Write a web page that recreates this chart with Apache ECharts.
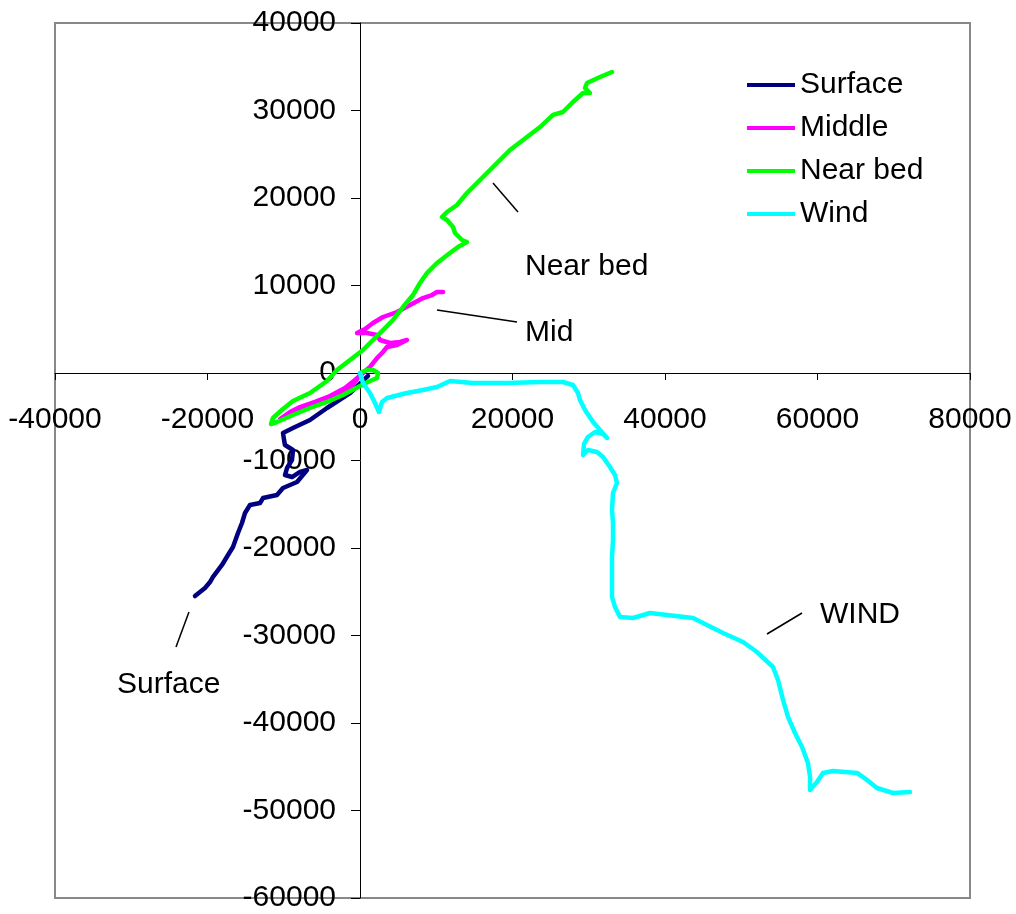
<!DOCTYPE html>
<html>
<head>
<meta charset="utf-8">
<script src="https://cdn.jsdelivr.net/npm/echarts@6/dist/echarts.min.js"></script>
<style>
html,body{margin:0;padding:0;background:#fff;}
#chart{width:1016px;height:914px;}
</style>
</head>
<body>
<div id="chart"></div>
<script>
// Values in thousands, scaled to units below
var surface = [[1.05,-0.34],[-1.31,-2.29],[-4.33,-4.0],[-6.56,-5.37],[-8.79,-6.29],[-10.1,-6.86],[-9.97,-7.6],[-9.84,-8.23],[-8.79,-8.8],[-8.92,-9.94],[-9.57,-10.86],[-9.84,-11.66],[-8.92,-11.89],[-7.87,-11.31],[-6.95,-11.09],[-8.26,-12.46],[-10.1,-13.14],[-10.89,-13.94],[-12.72,-14.29],[-13.11,-14.86],[-14.43,-15.09],[-15.08,-16.0],[-15.48,-17.14],[-16.0,-18.29],[-16.66,-19.89],[-17.31,-20.8],[-18.1,-21.94],[-19.28,-23.31],[-19.67,-23.89],[-20.33,-24.57],[-21.64,-25.49]];
var middle = [[0.26,0.11],[-0.92,-1.37],[-2.62,-2.51],[-4.33,-3.09],[-6.16,-3.77],[-7.87,-4.23],[-9.18,-4.69],[-10.49,-5.26],[-9.18,-4.46],[-7.87,-3.89],[-5.9,-3.31],[-3.93,-2.63],[-1.97,-1.71],[-0.66,-0.8],[0.39,0],[1.31,0.69],[2.23,1.71],[3.02,2.4],[3.54,2.97],[4.85,3.2],[6.16,3.77],[5.25,3.54],[3.93,3.43],[2.62,3.77],[2.23,4.34],[0.92,4.57],[-0.39,4.57],[0.66,5.03],[1.7,5.71],[3.02,6.4],[4.85,6.97],[6.56,7.77],[8.26,8.57],[9.44,8.91],[10.1,9.26],[10.89,9.26]];
var nearBed = [[0,0],[0.92,0.34],[1.7,0.34],[2.36,0],[2.23,-0.57],[1.31,-0.91],[0,-1.49],[-2.23,-2.51],[-4.33,-3.31],[-6.56,-4.0],[-8.79,-4.8],[-10.89,-5.6],[-11.67,-5.83],[-11.41,-5.14],[-10.1,-4.11],[-8.79,-3.2],[-6.56,-2.29],[-4.33,-0.91],[-3.02,0.34],[-1.31,1.49],[0.39,2.63],[1.7,3.77],[3.02,4.91],[4.33,6.06],[5.64,7.54],[6.95,8.91],[7.87,10.29],[8.79,11.43],[10.1,12.57],[11.8,13.71],[12.85,14.4],[14.03,14.97],[13.38,15.2],[12.46,16.0],[12.2,16.69],[11.41,17.49],[10.75,17.83],[11.41,18.4],[12.72,19.2],[14.03,20.57],[15.74,22.06],[17.44,23.54],[18.36,24.34],[19.67,25.49],[21.9,26.97],[23.61,28.11],[25.31,29.49],[26.62,29.83],[27.93,30.97],[29.25,32.0],[30.16,32.0],[29.51,32.57],[29.77,33.14],[31.48,33.83],[33.05,34.4]];
var wind = [[0,0],[0.39,-1.14],[1.31,-2.29],[1.97,-3.43],[2.49,-4.46],[2.89,-3.31],[3.54,-2.86],[6.16,-2.29],[8.26,-1.94],[10.1,-1.6],[11.8,-0.91],[14.82,-1.14],[19.28,-1.14],[23.61,-1.03],[26.62,-1.03],[27.93,-1.37],[28.59,-2.29],[28.85,-3.09],[29.51,-4.23],[30.56,-5.6],[31.48,-6.51],[32.39,-7.43],[31.87,-6.97],[30.82,-6.74],[29.9,-7.31],[29.38,-8.11],[29.25,-9.37],[29.9,-8.8],[31.08,-9.03],[31.87,-9.6],[32.79,-10.74],[33.44,-11.66],[33.7,-12.57],[33.18,-13.71],[33.05,-15.66],[33.18,-17.14],[33.18,-19.09],[33.05,-21.03],[33.05,-22.86],[33.05,-25.6],[33.44,-26.74],[34.1,-27.89],[35.8,-28.0],[38.03,-27.43],[40.26,-27.66],[43.67,-28.0],[45.51,-28.8],[47.61,-29.71],[50.23,-30.74],[52.07,-31.89],[54.16,-33.6],[54.82,-35.09],[55.48,-37.37],[56.13,-39.31],[57.05,-41.14],[57.97,-42.74],[58.75,-44.57],[59.02,-46.17],[59.02,-47.66],[59.93,-46.74],[60.72,-45.71],[62.03,-45.49],[65.18,-45.71],[66.49,-46.51],[67.8,-47.43],[69.9,-48.0],[72.13,-47.89]];

var seriesNames = ['Surface','Middle','Near bed','Wind'];
var seriesColors = ['#000080','#FF00FF','#00FF00','#00FFFF'];

// Annotation labels (data coords, thousands) and leader lines
var annoLabels = ['Near bed','Mid','Surface','WIND'];
var annoPos = [[21.64,12.2],[21.64,4.6],[-31.87,-35.6],[60.33,-27.6]];
var annoLeaders = [
  [[17.44,21.71],[20.72,18.4]],
  [[10.1,7.2],[20.59,5.83]],
  [[-22.43,-27.31],[-24.13,-31.31]],
  [[53.38,-29.83],[57.97,-27.43]]
];

var xTicks = {min:-40000, max:80000, interval:20000};
var yTicks = {min:-60000, max:40000, interval:10000};

function scale(arr){ return arr.map(function(p){ return [p[0]*1000, p[1]*1000]; }); }

var FONT = 'Arial, "Liberation Sans", sans-serif';
var FS = 30;
var W = 1016, H = 914;
var G = {left:55, top:23, right:46, bottom:16};
var gw = W - G.left - G.right, gh = H - G.top - G.bottom;
// move axes to cross at zero (line, ticks and labels together)
var yAxisOffset = -gw * (0 - xTicks.min) / (xTicks.max - xTicks.min);
var xAxisOffset = -gh * (0 - yTicks.min) / (yTicks.max - yTicks.min);

var chart = echarts.init(document.getElementById('chart'), null, {renderer:'canvas'});

var dataSets = [surface, middle, nearBed, wind];
var series = dataSets.map(function(d, i){
  return {
    name: seriesNames[i], type:'line', data: scale(d),
    showSymbol:false, symbol:'none', smooth:false, animation:false,
    lineStyle:{color:seriesColors[i], width:4.5, cap:'round', join:'round'},
    itemStyle:{color:seriesColors[i]}, z: 2+i
  };
});
annoLeaders.forEach(function(l){
  series.push({type:'line', data: scale(l), showSymbol:false, symbol:'none', silent:true, animation:false,
    lineStyle:{color:'#000', width:1.5}, z:10});
});
series.push({
  type:'scatter', symbolSize:0, silent:true, animation:false, z:11,
  itemStyle:{opacity:1},
  data: annoPos.map(function(p, i){ return {value:[p[0]*1000, p[1]*1000], name: annoLabels[i]}; }),
  label:{show:true, position:'right', distance:0, formatter:'{b}', color:'#000', opacity:1, fontSize:FS, fontFamily:FONT}
});

function fmt(v){ return String(v); }

chart.setOption({
  backgroundColor:'#fff',
  animation:false,
  grid:{left:G.left, top:G.top, right:G.right, bottom:G.bottom, containLabel:false, outerBoundsMode:'none',
        show:true, borderColor:'#888', borderWidth:2, backgroundColor:'transparent'},
  legend:{
    data: seriesNames, orient:'vertical', left:747, top:70, padding:0, icon:'rect', itemWidth:48, itemHeight:4, itemGap:13,
    textStyle:{fontSize:FS, fontFamily:FONT, color:'#000', lineHeight:30}
  },
  xAxis:{
    type:'value', position:'bottom', offset:xAxisOffset, min:xTicks.min, max:xTicks.max, interval:xTicks.interval,
    axisLine:{show:true, onZero:false, lineStyle:{color:'#000', width:1}},
    axisTick:{show:true, inside:false, length:7, lineStyle:{color:'#000'}},
    axisLabel:{color:'#000', fontSize:FS, fontFamily:FONT, margin:32, formatter:fmt, hideOverlap:false},
    splitLine:{show:false}
  },
  yAxis:{
    type:'value', position:'left', offset:yAxisOffset, min:yTicks.min, max:yTicks.max, interval:yTicks.interval,
    axisLine:{show:true, onZero:false, lineStyle:{color:'#000', width:1}},
    axisTick:{show:true, inside:false, length:9, lineStyle:{color:'#000'}},
    axisLabel:{color:'#000', fontSize:FS, fontFamily:FONT, margin:24, formatter:fmt, hideOverlap:false, padding:[5,0,0,0]},
    splitLine:{show:false}
  },
  series: series
});
</script>
</body>
</html>
